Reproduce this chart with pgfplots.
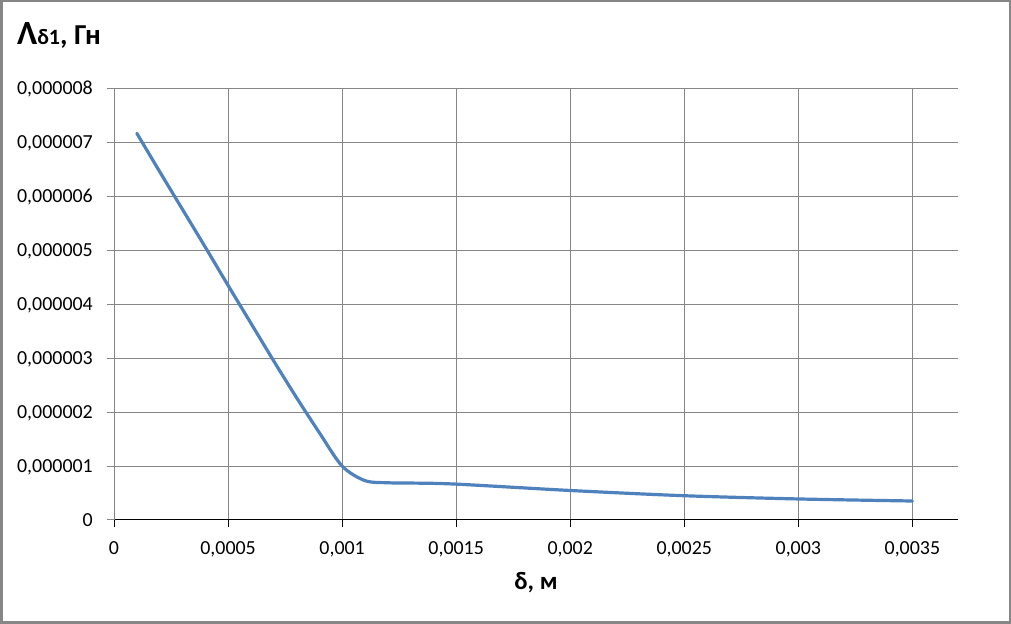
\documentclass[border=0pt]{standalone}
\usepackage{pgfplots}
\pgfplotsset{compat=1.18}
\usepackage{fontspec}
\setmainfont{Carlito}
\definecolor{gridgray}{HTML}{868686}
\definecolor{excelblue}{HTML}{4F81BD}
\pgfplotstableread{
x y
0.0001 7.17e-6
0.0002 6.46e-6
0.0003 5.76e-6
0.0004 5.06e-6
0.0005 4.35e-6
0.0006 3.65e-6
0.0007 2.95e-6
0.0008 2.27e-6
0.0009 1.62e-6
0.001 1.0e-6
0.0011 0.73e-6
0.0012 0.69e-6
0.0013 0.685e-6
0.0015 0.665e-6
0.002 0.547e-6
0.0025 0.45e-6
0.003 0.39e-6
0.0035 0.352e-6
}\datatable
\begin{document}
\begin{tikzpicture}[x=1bp,y=1bp]
\path[use as bounding box] (0,0) rectangle (1011,624);
\draw[gridgray, line width=2.5bp] (1.25,1.25) rectangle (1009.75,622.75);
\begin{axis}[
  at={(114bp,104bp)}, anchor=south west,
  scale only axis, width=844bp, height=431.5bp,
  xmin=0, xmax=0.0037, ymin=0, ymax=8e-6,
  axis lines*=left,
  x axis line style={black, line width=1bp, -},
  y axis line style={gridgray, line width=1bp, -},
  tick align=outside, major tick length=7bp,
  xtick={0,0.0005,0.001,0.0015,0.002,0.0025,0.003,0.0035},
  xticklabels={0,{0,0005},{0,001},{0,0015},{0,002},{0,0025},{0,003},{0,0035}},
  ytick={0,1e-6,2e-6,3e-6,4e-6,5e-6,6e-6,7e-6,8e-6},
  yticklabels={0,{0,000001},{0,000002},{0,000003},{0,000004},{0,000005},{0,000006},{0,000007},{0,000008}},
  scaled x ticks=false, scaled y ticks=false,
  grid=major, major grid style={gridgray, line width=1bp},
  xtick style={black, line width=1bp},
  ytick style={gridgray, line width=1bp},
  tick label style={font=\fontsize{20}{22}\selectfont, inner sep=0pt},
  xticklabel style={anchor=base, yshift=-28bp},
  yticklabel style={anchor=base east, xshift=-14bp, yshift=-6.3bp},
  xlabel={\bfseries δ, м},
  xlabel style={at={(axis description cs:0.5,0)}, anchor=base, yshift=-70bp, font=\fontsize{25}{28}\selectfont},
  title={\bfseries{\fontsize{34}{36}\selectfont Λ}{\fontsize{22}{24}\selectfont δ1}{\fontsize{29}{30}\selectfont, Гн}},
  title style={at={(axis description cs:0,1)}, anchor=base west, xshift=-97bp, yshift=38.5bp, inner sep=0pt},
]
\addplot[excelblue, line width=3.2bp, smooth, tension=0.5, line cap=round] table[x=x, y=y] {\datatable};
\end{axis}
\end{tikzpicture}
\end{document}
